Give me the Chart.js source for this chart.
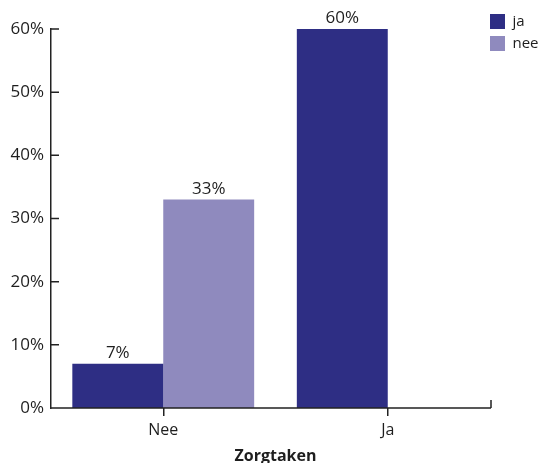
<!DOCTYPE html>
<html>
<head>
<meta charset="utf-8">
<script src="https://cdn.jsdelivr.net/npm/chart.js@4/dist/chart.umd.min.js"></script>
<style>
  body { margin: 0; background: #fff; }
  canvas { display: block; }
</style>
</head>
<body>
<canvas id="chart" width="542" height="463"></canvas>
<script>
const categories = ['Nee', 'Ja'];
const seriesNames = ['ja', 'nee'];
const jaValues = [7, 60];
const neeValues = [33, 0];
const yTicks = [0, 10, 20, 30, 40, 50, 60];

const axisColor = '#222';
const textColor = '#1e1e1e';
const font = 'Open Sans';
const axisEndGap = 9; // x axis line stops a little before the last category slot

// value labels above the bars
const valueLabels = {
    id: 'valueLabels',
    afterDatasetsDraw(chart) {
        const ctx = chart.ctx;
        ctx.save();
        ctx.font = '17px "' + font + '"';
        ctx.fillStyle = textColor;
        ctx.textAlign = 'center';
        ctx.textBaseline = 'alphabetic';
        chart.data.datasets.forEach((ds, i) => {
            chart.getDatasetMeta(i).data.forEach((bar, j) => {
                const v = ds.data[j];
                if (!v) return;
                ctx.fillText(v + '%', bar.x, bar.y - 6);
            });
        });
        ctx.restore();
    }
};

// x axis line, inward ticks on the y axis, closing tick at the end of the x axis
const axisTicks = {
    id: 'axisTicks',
    afterDraw(chart) {
        const ctx = chart.ctx;
        const area = chart.chartArea;
        const y = chart.scales.y;
        const xEnd = area.right - axisEndGap;
        ctx.save();
        ctx.strokeStyle = axisColor;
        ctx.lineWidth = 1.5;
        ctx.beginPath();
        y.ticks.forEach(t => {
            const py = y.getPixelForValue(t.value);
            ctx.moveTo(area.left, py);
            ctx.lineTo(area.left + 8, py);
        });
        ctx.moveTo(area.left, area.bottom);
        ctx.lineTo(xEnd, area.bottom);
        ctx.moveTo(xEnd, area.bottom);
        ctx.lineTo(xEnd, area.bottom - 8);
        ctx.stroke();
        ctx.restore();
    }
};

// put the legend in the top right corner, above the plot
const legendPlace = {
    id: 'legendPlace',
    afterLayout(chart) {
        const lg = chart.legend;
        lg.left = chart.chartArea.right - axisEndGap - 8;
        lg.top = 7;
    }
};

new Chart(document.getElementById('chart'), {
    type: 'bar',
    data: {
        labels: categories,
        datasets: [
            { label: seriesNames[0], data: jaValues, backgroundColor: '#2e2e84', borderWidth: 0 },
            { label: seriesNames[1], data: neeValues, backgroundColor: '#8f8abe', borderWidth: 0 }
        ]
    },
    options: {
        responsive: false,
        devicePixelRatio: 1,
        animation: false,
        layout: { padding: { top: 29, bottom: -3, left: 0, right: 0 } },
        datasets: {
            bar: { categoryPercentage: 0.81, barPercentage: 1 }
        },
        plugins: {
            legend: {
                position: 'right',
                align: 'start',
                maxWidth: 42,
                labels: {
                    boxWidth: 15,
                    boxHeight: 15,
                    padding: 7,
                    color: textColor,
                    font: { family: font, size: 15 }
                }
            },
            tooltip: { enabled: false }
        },
        scales: {
            x: {
                offset: true,
                grid: {
                    display: true,
                    offset: false,
                    drawOnChartArea: false,
                    drawTicks: true,
                    tickLength: 8,
                    color: axisColor,
                    lineWidth: 1.5
                },
                border: { display: false },
                ticks: {
                    color: textColor,
                    padding: 5,
                    font: { family: font, size: 16 }
                },
                title: {
                    display: true,
                    text: 'Zorgtaken',
                    color: textColor,
                    padding: { top: 8, bottom: 0 },
                    font: { family: font, size: 16, weight: 'bold' }
                },
                afterFit(scale) { scale.height = 58; }
            },
            y: {
                min: 0,
                max: 60,
                afterBuildTicks(scale) {
                    scale.ticks = yTicks.map(v => ({ value: v }));
                },
                grid: { display: false, drawTicks: false },
                border: { display: true, color: axisColor, width: 1.5 },
                ticks: {
                    color: textColor,
                    padding: 7,
                    font: { family: font, size: 17 },
                    callback: v => v + '%'
                },
                afterFit(scale) { scale.width = 51; }
            }
        }
    },
    plugins: [valueLabels, axisTicks, legendPlace]
});
</script>
</body>
</html>
